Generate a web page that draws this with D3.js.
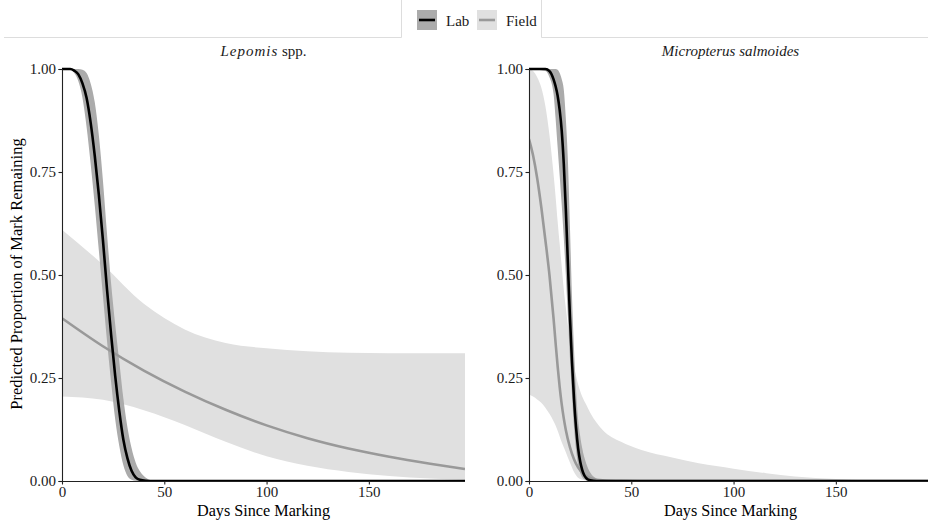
<!DOCTYPE html>
<html>
<head>
<meta charset="utf-8">
<script src="https://cdn.jsdelivr.net/npm/d3@7"></script>
<style>
  body { margin: 0; background: #fff; }
  svg { display: block; font-family: "Liberation Serif", "DejaVu Serif", serif; }
  svg text { font-family: "Liberation Serif", "DejaVu Serif", serif; }
</style>
</head>
<body>
<div id="chart"></div>
<script>
// x ticks and y ticks
const xTicks = [0, 50, 100, 150];
const yTicks = [0, 0.25, 0.5, 0.75, 1];
const legendLabels = ['Lab', 'Field'];

// Lepomis spp. - Lab
const lepomisLabDays  = [0, 4, 6, 8, 10, 12, 14, 16, 18, 20, 22, 24, 26, 28, 30, 32, 34, 36, 38, 41, 44, 50, 197];
const lepomisLabFit   = [1, 1, 0.996, 0.987, 0.965, 0.93, 0.87, 0.79, 0.695, 0.585, 0.465, 0.355, 0.255, 0.17, 0.1, 0.055, 0.025, 0.009, 0.003, 0.0005, 0, 0, 0];
const lepomisLabLower = [1, 0.998, 0.99, 0.97, 0.93, 0.86, 0.77, 0.67, 0.56, 0.45, 0.34, 0.24, 0.15, 0.085, 0.038, 0.012, 0.003, 0.0005, 0, 0, 0, 0, 0];
const lepomisLabUpper = [1, 1, 1, 1, 0.998, 0.99, 0.965, 0.92, 0.84, 0.73, 0.6, 0.48, 0.38, 0.29, 0.2, 0.13, 0.08, 0.045, 0.024, 0.008, 0.002, 0, 0];

// Lepomis spp. - Field
const lepomisFieldDays  = [0, 20, 40, 60, 80, 100, 120, 140, 160, 180, 197];
const lepomisFieldFit   = [0.395, 0.327, 0.268, 0.217, 0.173, 0.135, 0.104, 0.079, 0.059, 0.042, 0.029];
const lepomisFieldLower = [0.205, 0.197, 0.172, 0.136, 0.095, 0.06, 0.037, 0.022, 0.012, 0.006, 0.003];
const lepomisFieldUpper = [0.61, 0.525, 0.43, 0.368, 0.335, 0.322, 0.315, 0.311, 0.31, 0.31, 0.31];

// Micropterus salmoides - Lab
const microLabDays  = [0, 8, 10, 12, 13, 14, 15, 16, 17, 18, 19, 20, 21, 22, 23, 24, 25, 26, 27, 28, 30, 33, 36, 40, 197];
const microLabFit   = [1, 1, 0.995, 0.975, 0.958, 0.935, 0.9, 0.85, 0.77, 0.66, 0.53, 0.4, 0.29, 0.2, 0.13, 0.08, 0.048, 0.027, 0.014, 0.007, 0.0015, 0, 0, 0, 0];
const microLabLower = [1, 0.995, 0.98, 0.94, 0.88, 0.81, 0.74, 0.67, 0.59, 0.5, 0.4, 0.3, 0.21, 0.13, 0.075, 0.04, 0.02, 0.009, 0.004, 0.002, 0, 0, 0, 0, 0];
const microLabUpper = [1, 1, 1, 1, 1, 0.998, 0.99, 0.975, 0.95, 0.88, 0.78, 0.62, 0.45, 0.32, 0.22, 0.15, 0.11, 0.08, 0.058, 0.042, 0.02, 0.006, 0.001, 0, 0];

// Micropterus salmoides - Field
const microFieldDays  = [0, 2, 4, 6, 8, 10, 12, 13, 14, 15, 16, 17, 18, 20, 22, 24, 26, 28, 30, 36, 45, 55, 70, 83, 100, 116, 130, 150, 165, 180, 197];
const microFieldFit   = [0.83, 0.79, 0.735, 0.665, 0.585, 0.5, 0.395, 0.335, 0.278, 0.228, 0.186, 0.152, 0.124, 0.082, 0.053, 0.033, 0.02, 0.012, 0.007, 0.0015, 0.0003, 0, 0, 0, 0, 0, 0, 0, 0, 0, 0];
const microFieldLower = [0.21, 0.205, 0.198, 0.19, 0.178, 0.163, 0.145, 0.135, 0.122, 0.108, 0.094, 0.082, 0.07, 0.045, 0.022, 0.008, 0.003, 0.001, 0, 0, 0, 0, 0, 0, 0, 0, 0, 0, 0, 0, 0];
const microFieldUpper = [1, 0.995, 0.98, 0.955, 0.91, 0.84, 0.745, 0.69, 0.63, 0.575, 0.52, 0.465, 0.42, 0.34, 0.28, 0.235, 0.205, 0.185, 0.165, 0.124, 0.095, 0.075, 0.057, 0.043, 0.03, 0.019, 0.011, 0.005, 0.002, 0.001, 0.0005];

const width = 928;
const height = 521;

function toRows(days, fit, lower, upper) {
  return days.map((d, i) => ({ day: d, fit: fit[i], lo: lower[i], hi: upper[i] }));
}

const panels = [
  {
    title: [{ text: 'Lepomis', italic: true }, { text: ' spp.', italic: false }],
    left: 62, right: 465,
    lab: toRows(lepomisLabDays, lepomisLabFit, lepomisLabLower, lepomisLabUpper),
    field: toRows(lepomisFieldDays, lepomisFieldFit, lepomisFieldLower, lepomisFieldUpper),
  },
  {
    title: [{ text: 'Micropterus salmoides', italic: true }],
    left: 529, right: 932,
    lab: toRows(microLabDays, microLabFit, microLabLower, microLabUpper),
    field: toRows(microFieldDays, microFieldFit, microFieldLower, microFieldUpper),
  },
];

const colors = {
  labLine: '#000000',
  labBand: '#ababab',
  fieldLine: '#999999',
  fieldBand: '#e0e0e0',
  axis: '#222222',
  frame: '#dddddd',
};

const plotTop = 69, plotBottom = 481;

const svg = d3.select('#chart')
  .append('svg')
  .attr('width', width)
  .attr('height', height);

// frame around the legend tab
svg.append('path')
  .attr('d', 'M4,37.5H401.5V0M541.5,0V37.5H928')
  .attr('fill', 'none')
  .attr('stroke', colors.frame)
  .attr('stroke-width', 1);

const yScale = d3.scaleLinear().domain([0, 1]).range([plotBottom, plotTop]);

panels.forEach((p, i) => {
  const xScale = d3.scaleLinear().domain([0, 197]).range([p.left, p.right]);
  const g = svg.append('g');

  g.append('clipPath').attr('id', 'clip' + i)
    .append('rect')
    .attr('x', p.left).attr('y', plotTop - 2)
    .attr('width', p.right - p.left).attr('height', plotBottom - plotTop + 2);

  const plot = g.append('g').attr('clip-path', `url(#clip${i})`);

  const band = d3.area()
    .x(d => xScale(d.day))
    .y0(d => yScale(d.lo))
    .y1(d => yScale(d.hi))
    .curve(d3.curveMonotoneX);

  const line = d3.line()
    .x(d => xScale(d.day))
    .y(d => yScale(d.fit))
    .curve(d3.curveMonotoneX);

  plot.append('path').datum(p.field).attr('d', band).attr('fill', colors.fieldBand);
  plot.append('path').datum(p.lab).attr('d', band).attr('fill', colors.labBand);
  plot.append('path').datum(p.field).attr('d', line)
    .attr('fill', 'none').attr('stroke', colors.fieldLine).attr('stroke-width', 2.6);
  plot.append('path').datum(p.lab).attr('d', line)
    .attr('fill', 'none').attr('stroke', colors.labLine).attr('stroke-width', 2.6);

  // axes
  const xAxis = g.append('g')
    .attr('transform', `translate(0,${plotBottom})`)
    .call(d3.axisBottom(xScale).tickValues(xTicks).tickSize(3.5).tickPadding(2).tickFormat(d3.format('d')));
  const yAxis = g.append('g')
    .attr('transform', `translate(${p.left},0)`)
    .call(d3.axisLeft(yScale).tickValues(yTicks).tickSize(3.5).tickPadding(2.5).tickFormat(d3.format('.2f')));

  [xAxis, yAxis].forEach(ax => {
    ax.attr('font-family', null).attr('font-size', null);
    ax.select('.domain').attr('stroke', colors.axis).attr('stroke-width', 1.1);
    ax.selectAll('.tick line').attr('stroke', colors.axis).attr('stroke-width', 1.1);
    ax.selectAll('.tick text').attr('fill', '#1a1a1a').style('font-size', '15px');
  });
  xAxis.select('.domain').attr('d', `M${p.left},0.5H${Math.min(p.right, width)}`);

  // panel title
  const t = g.append('text')
    .attr('x', (p.left + p.right) / 2)
    .attr('y', 56)
    .attr('text-anchor', 'middle')
    .style('font-size', '15px')
    .attr('fill', '#1a1a1a');
  p.title.forEach(part => {
    t.append('tspan')
      .text(part.text)
      .style('font-style', part.italic ? 'italic' : 'normal')
      .style('letter-spacing', part.italic && i === 0 ? '1px' : null);
  });

  // x axis title
  g.append('text')
    .attr('x', (p.left + p.right) / 2)
    .attr('y', 516)
    .attr('text-anchor', 'middle')
    .style('font-size', '16.2px')
    .attr('fill', '#000')
    .text('Days Since Marking');
});

// y axis title
svg.append('text')
  .attr('transform', `translate(22,${(plotTop + plotBottom) / 2 - 1}) rotate(-90)`)
  .attr('text-anchor', 'middle')
  .style('font-size', '16.5px')
  .attr('fill', '#000')
  .text('Predicted Proportion of Mark Remaining');

// legend
const legendKeys = [
  { label: legendLabels[0], x: 417, band: colors.labBand, stroke: colors.labLine },
  { label: legendLabels[1], x: 477, band: colors.fieldBand, stroke: colors.fieldLine },
];
const legend = svg.append('g');
legendKeys.forEach(k => {
  legend.append('rect')
    .attr('x', k.x).attr('y', 10)
    .attr('width', 20).attr('height', 20)
    .attr('fill', k.band);
  legend.append('line')
    .attr('x1', k.x + 2).attr('x2', k.x + 18)
    .attr('y1', 20).attr('y2', 20)
    .attr('stroke', k.stroke).attr('stroke-width', 2.6);
  legend.append('text')
    .attr('x', k.x + 29).attr('y', 26)
    .style('font-size', '15px')
    .attr('fill', '#1a1a1a')
    .text(k.label);
});
</script>
</body>
</html>
